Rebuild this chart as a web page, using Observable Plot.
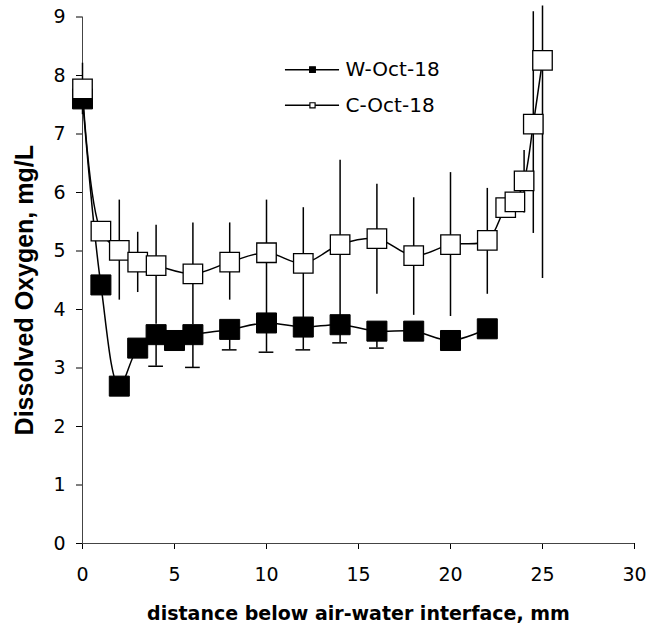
<!DOCTYPE html>
<html>
<head>
<meta charset="utf-8">
<script src="https://cdn.jsdelivr.net/npm/d3@7"></script>
<script src="https://cdn.jsdelivr.net/npm/@observablehq/plot@0.6"></script>
<style>
  html, body { margin: 0; padding: 0; background: #fff; }
</style>
</head>
<body>
<div id="chart"></div>
<script>
// ---- data ----
const wDepth = [0, 1, 2, 3, 4, 5, 6, 8, 10, 12, 14, 16, 18, 20, 22];
const wOxygen = [7.6, 4.42, 2.69, 3.34, 3.57, 3.47, 3.57, 3.66, 3.77, 3.70, 3.74, 3.63, 3.63, 3.47, 3.67];
const wErrDown = [0.1, 0.12, 0.12, 0.12, 0.54, 0.12, 0.56, 0.35, 0.5, 0.39, 0.31, 0.29, 0.12, 0.12, 0.12];

const cDepth = [0, 1, 2, 3, 4, 6, 8, 10, 12, 14, 16, 18, 20, 22, 23, 23.5, 24, 24.5, 25];
const cOxygen = [7.77, 5.34, 5.01, 4.81, 4.75, 4.61, 4.81, 4.97, 4.79, 5.11, 5.21, 4.92, 5.11, 5.18, 5.74, 5.84, 6.20, 7.17, 8.26];
const cLow  = [7.33, 5.23, 4.16, 4.29, 3.75, 3.74, 4.16, 3.90, 3.84, 3.67, 4.26, 3.90, 3.88, 4.26, 5.68, 5.78, 5.65, 5.30, 4.53];
const cHigh = [8.21, 5.45, 5.87, 5.32, 5.44, 5.48, 5.48, 5.87, 5.74, 6.55, 6.14, 5.91, 6.34, 6.07, 5.80, 5.90, 6.72, 9.09, 9.19];

const seriesNames = ["W-Oct-18", "C-Oct-18"];
const xTicks = [0, 5, 10, 15, 20, 25, 30];
const yTicks = [0, 1, 2, 3, 4, 5, 6, 7, 8, 9];
const xTitle = "distance below air-water interface, mm";
const yTitle = "Dissolved Oxygen, mg/L";

// ---- tables ----
const wRows = wDepth.map((x, i) => ({x, y: wOxygen[i], lo: wOxygen[i] - wErrDown[i]}));
const cRows = cDepth.map((x, i) => ({x, y: cOxygen[i], lo: cLow[i], hi: cHigh[i]}));
const legendRows = seriesNames.map((name, i) => ({name, i}));

const legY = d => 8.1 - 0.61 * d.i;

const chart = Plot.plot({
  width: 658,
  height: 628,
  marginLeft: 82,
  marginRight: 24,
  marginTop: 16.5,
  marginBottom: 85,
  style: {fontFamily: "DejaVu Sans", fontSize: "19px", background: "white", color: "black"},
  x: {domain: [0, 30], ticks: xTicks, tickSize: 6, tickPadding: 18, label: null},
  y: {domain: [0, 9], ticks: yTicks, tickSize: 6, tickPadding: 11, label: null},
  marks: [
    Plot.ruleY([0], {stroke: "#444", strokeWidth: 1}),
    Plot.ruleX([0], {stroke: "#444", strokeWidth: 1}),
    // W series
    Plot.ruleX(wRows, {x: "x", y1: "y", y2: "lo", stroke: "black", strokeWidth: 1.5}),
    Plot.ruleY(wRows, {y: "lo", x1: d => d.x - 0.4, x2: d => d.x + 0.4, stroke: "black", strokeWidth: 1.5}),
    Plot.line(wRows, {x: "x", y: "y", curve: "catmull-rom", stroke: "black", strokeWidth: 1.5}),
    Plot.dot(wRows, {x: "x", y: "y", symbol: "square", r: 11.3, fill: "black", stroke: "black", strokeWidth: 1}),
    // C series
    Plot.ruleX(cRows, {x: "x", y1: "lo", y2: "hi", stroke: "black", strokeWidth: 1.5}),
    Plot.line(cRows, {x: "x", y: "y", curve: "catmull-rom", stroke: "black", strokeWidth: 1.5}),
    Plot.dot(cRows, {x: "x", y: "y", symbol: "square", r: 11.0, fill: "white", stroke: "black", strokeWidth: 1.3}),
    // legend
    Plot.ruleY(legendRows, {y: legY, x1: 11.03, x2: 13.97, stroke: "black", strokeWidth: 1.5}),
    Plot.dot(legendRows, {x: 12.5, y: legY, symbol: "square", r: d => d.i === 0 ? 7.2 : 6.0,
      fill: d => d.i === 0 ? "black" : "white", stroke: "black", strokeWidth: 1.2}),
    Plot.text(legendRows, {x: 14.3, y: legY, text: "name", textAnchor: "start", fontSize: 20, fill: "black"}),
    // axis titles
    Plot.text([xTitle], {frameAnchor: "bottom", dy: 70, text: d => d, textAnchor: "middle", lineAnchor: "middle",
      fontWeight: "bold", fontSize: 19, fill: "black"}),
    Plot.text([yTitle], {frameAnchor: "left", rotate: -90, dx: -58, dy: 10, text: d => d,
      textAnchor: "middle", lineAnchor: "middle",
      fontFamily: "Liberation Sans", fontWeight: "bold", fontSize: 25, fill: "black"})
  ]
});
document.getElementById("chart").appendChild(chart);
</script>
</body>
</html>
